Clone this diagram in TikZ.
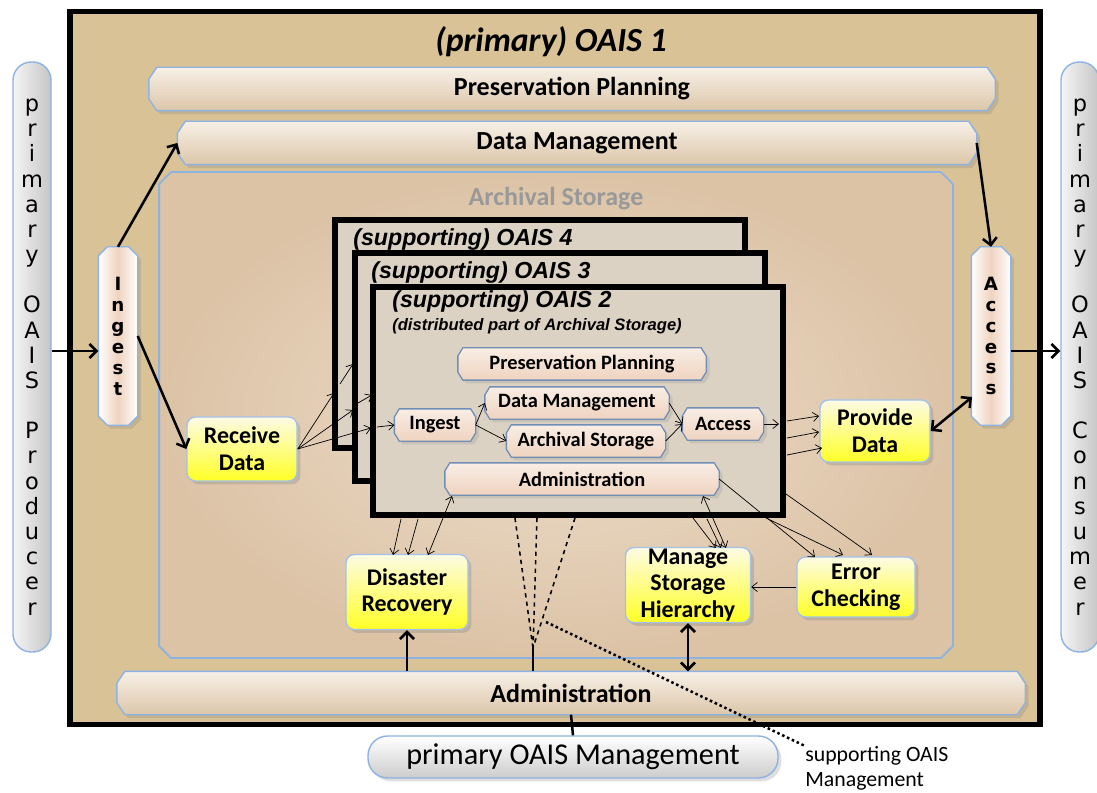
\documentclass[tikz,border=0pt]{standalone}
\usepackage{fontspec}
\setmainfont{Carlito}
\newfontfamily\arialfont{Liberation Sans}
\newfontfamily\verdanafont{DejaVu Sans}
\usepackage{tikz}
\usetikzlibrary{arrows.meta,positioning,shadows}
\newcommand{\pxu}{0.025cm}
% bevelled bar: a rectangle with cut corners
\makeatletter
\newdimen\bvxa \newdimen\bvya \newdimen\bvxb \newdimen\bvyb \newdimen\bvdx \newdimen\bvdy
\pgfkeys{/pgf/bevel x/.initial=5pt, /pgf/bevel y/.initial=8pt}
\pgfdeclareshape{bevel box}{%
  \inheritsavedanchors[from=rectangle]%
  \inheritanchorborder[from=rectangle]%
  \inheritanchor[from=rectangle]{center}%
  \inheritanchor[from=rectangle]{mid}%
  \inheritanchor[from=rectangle]{base}%
  \inheritanchor[from=rectangle]{north}%
  \inheritanchor[from=rectangle]{south}%
  \inheritanchor[from=rectangle]{east}%
  \inheritanchor[from=rectangle]{west}%
  \inheritanchor[from=rectangle]{north east}%
  \inheritanchor[from=rectangle]{north west}%
  \inheritanchor[from=rectangle]{south east}%
  \inheritanchor[from=rectangle]{south west}%
  \backgroundpath{%
    \southwest \bvxa=\pgf@x \bvya=\pgf@y
    \northeast \bvxb=\pgf@x \bvyb=\pgf@y
    \pgfmathsetlength\bvdx{\pgfkeysvalueof{/pgf/bevel x}}%
    \pgfmathsetlength\bvdy{\pgfkeysvalueof{/pgf/bevel y}}%
    \pgfpathmoveto{\pgfpointadd{\pgfqpoint{\bvxa}{\bvya}}{\pgfqpoint{0pt}{\bvdy}}}%
    \pgfpathlineto{\pgfpointadd{\pgfqpoint{\bvxa}{\bvya}}{\pgfqpoint{\bvdx}{0pt}}}%
    \pgfpathlineto{\pgfpointadd{\pgfqpoint{\bvxb}{\bvya}}{\pgfqpoint{-\bvdx}{0pt}}}%
    \pgfpathlineto{\pgfpointadd{\pgfqpoint{\bvxb}{\bvya}}{\pgfqpoint{0pt}{\bvdy}}}%
    \pgfpathlineto{\pgfpointadd{\pgfqpoint{\bvxb}{\bvyb}}{\pgfqpoint{0pt}{-\bvdy}}}%
    \pgfpathlineto{\pgfpointadd{\pgfqpoint{\bvxb}{\bvyb}}{\pgfqpoint{-\bvdx}{0pt}}}%
    \pgfpathlineto{\pgfpointadd{\pgfqpoint{\bvxa}{\bvyb}}{\pgfqpoint{\bvdx}{0pt}}}%
    \pgfpathlineto{\pgfpointadd{\pgfqpoint{\bvxa}{\bvyb}}{\pgfqpoint{0pt}{-\bvdy}}}%
    \pgfpathclose
  }%
}
\makeatother
\definecolor{papyrus}{HTML}{D8C296}
\definecolor{storagein}{HTML}{EDDDCB}
\definecolor{storageout}{HTML}{DCC3A6}
\definecolor{barblue}{HTML}{8DB3E2}
\definecolor{bartop}{HTML}{F7F0E7}
\definecolor{barbottom}{HTML}{DCC6A9}
\definecolor{peach}{HTML}{EFD3BF}
\definecolor{framefill}{HTML}{DBD2C3}
\definecolor{yellowtop}{HTML}{FDFBE4}
\definecolor{boxyellow}{HTML}{FFFF26}
\tikzset{
  oais-main/.style={draw=black, line width=3.6pt, fill=papyrus, inner sep=0pt},
  oais-frame/.style={draw=black, line width=3.6pt, fill=framefill, inner sep=0pt,
    minimum width=410*\pxu, minimum height=228*\pxu},
  oais-title/.style={anchor=west, inner sep=0pt, font=\arialfont\bfseries\itshape\fontsize{16.5}{19}\selectfont},
  oais-store/.style={bevel box, bevel x=8.5pt, bevel y=8.5pt, draw=barblue, line width=1.3pt,
    inner color=storagein, outer color=storageout, inner sep=0pt},
  oais-bar/.style={bevel box, bevel x=5.7pt, bevel y=8.5pt,
    draw=barblue, line width=1pt, top color=bartop, bottom color=barbottom, inner sep=0pt,
    minimum height=42*\pxu, font=\bfseries\fontsize{18.5}{21}\selectfont, drop shadow={opacity=0.25}},
  oais-vbar/.style={bevel box, bevel x=6.4pt, bevel y=6.4pt,
    draw=barblue, line width=1pt, left color=white, right color=white, middle color=peach, inner sep=0pt,
    minimum width=38*\pxu, minimum height=177*\pxu, align=center,
    font=\verdanafont\bfseries\fontsize{13}{14.9}\selectfont, drop shadow={opacity=0.25}},
  oais-sub/.style={bevel box, bevel x=3.5pt, bevel y=5.7pt,
    draw=barblue!80!black, line width=0.9pt, top color=peach!40!white, bottom color=peach, inner sep=0pt,
    minimum height=31*\pxu, font=\bfseries\fontsize{14.5}{17}\selectfont, drop shadow={opacity=0.2}},
  oais-func/.style={rounded corners=6pt, draw=barblue!80, line width=1pt, top color=yellowtop,
    bottom color=boxyellow, align=center, inner sep=0pt, font=\bfseries\fontsize{17}{19}\selectfont,
    drop shadow={opacity=0.3}},
  oais-pill/.style={rounded corners=13pt, draw=barblue, line width=1pt, left color=gray!8, right color=gray!45,
    inner sep=0pt, minimum width=38*\pxu, minimum height=590*\pxu, align=center,
    font=\verdanafont\fontsize{16}{17.9}\selectfont},
  oais-mgmt/.style={rounded corners=14pt, draw=barblue, line width=1pt, top color=white, bottom color=gray!40,
    inner sep=0pt, font=\fontsize{21.5}{24}\selectfont, drop shadow={opacity=0.25}},
  oais-link/.style={line width=1.8pt, -{Straight Barb[length=5pt,width=10pt]}},
  oais-both/.style={line width=1.8pt, {Straight Barb[length=5pt,width=10pt]}-{Straight Barb[length=5pt,width=10pt]}},
  oais-thin/.style={line width=0.5pt, -{Straight Barb[length=4pt,width=6.5pt]}},
  oais-thinboth/.style={line width=0.5pt, {Straight Barb[length=4pt,width=6.5pt]}-{Straight Barb[length=4pt,width=6.5pt]}}
}
\begin{document}
\begin{tikzpicture}[x=\pxu, y=-\pxu]
  \useasboundingbox[fill=white] (0,0) rectangle (1097,793);
  % primary OAIS
  \node[oais-main, minimum width=970*\pxu, minimum height=713*\pxu] (oais1) at (555,368) {};
  \node[font=\bfseries\itshape\fontsize{24}{28}\selectfont] (title1) at (551,42) {(primary) OAIS 1};
  \node[oais-bar, minimum width=845*\pxu] (plan) at (572,89) {Preservation Planning};
  \node[oais-bar, minimum width=798*\pxu] (datamgmt) at (577,143) {Data Management};
  \node[oais-store, minimum width=792*\pxu, minimum height=484*\pxu] (storage) at (556,415) {};
  \node[text=gray!80, font=\bfseries\fontsize{18.5}{21}\selectfont] (storagelbl) at (556,199) {Archival Storage};
  \node[oais-vbar] (ingest) at (118,336) {I\\n\\g\\e\\s\\t};
  \node[oais-vbar] (access) at (991,336) {A\\c\\c\\e\\s\\s};
  \node[oais-bar, minimum width=907*\pxu] (admin) at (571,693) {Administration};
  \node[oais-pill] (producer) at (32,357) {p\\r\\i\\m\\a\\r\\y\\[17.9pt]O\\A\\I\\S\\[17.9pt]P\\r\\o\\d\\u\\c\\e\\r};
  \node[oais-pill] (consumer) at (1080,357) {p\\r\\i\\m\\a\\r\\y\\[17.9pt]O\\A\\I\\S\\[17.9pt]C\\o\\n\\s\\u\\m\\e\\r};
  \node[oais-mgmt, minimum width=410*\pxu, minimum height=42*\pxu] (oaismgmt) at (573,757) {primary OAIS Management};
  \node[anchor=north west, inner sep=0pt, align=left, font=\fontsize{15.5}{18}\selectfont] (suplabel) at (805,746) {supporting OAIS\\Management};

  % supporting OAIS stack
  \node[oais-frame] (oais4) at (540,334) {};
  \node[oais-title] (title4) at (353,240) {(supporting) OAIS 4};
  \coordinate (enter4) at (340,384);
  \coordinate (ingest4) at (353,364);
  \draw[oais-thin] (enter4) -- (ingest4);
  \node[oais-frame] (oais3) at (560,367) {};
  \node[oais-title] (title3) at (371,273) {(supporting) OAIS 3};
  \coordinate (enter3) at (358,403);
  \coordinate (ingest3) at (372,395);
  \draw[oais-thin] (enter3) -- (ingest3);
  \node[oais-frame] (oais2) at (578,401) {};
  \node[oais-title] (title2) at (392,302) {(supporting) OAIS 2};
  \node[oais-title, font=\arialfont\bfseries\itshape\fontsize{11.8}{14}\selectfont] (subtitle2) at (392,326) {(distributed part of Archival Storage)};
  \node[oais-sub, minimum width=247*\pxu] (splan) at (582,364) {Preservation Planning};
  \node[oais-sub, minimum width=183*\pxu] (sdatamgmt) at (577,403) {Data Management};
  \node[oais-sub, minimum width=80*\pxu] (singest) at (435,425) {Ingest};
  \node[oais-sub, minimum width=158*\pxu] (sstorage) at (586,441) {Archival Storage};
  \node[oais-sub, minimum width=80*\pxu] (saccess) at (723,424) {Access};
  \node[oais-sub, minimum width=273*\pxu] (sadmin) at (582,479) {Administration};

  % functions of Archival Storage
  \node[oais-func, minimum width=110*\pxu, minimum height=64*\pxu] (receive) at (242,449) {Receive\\Data};
  \node[oais-func, minimum width=110*\pxu, minimum height=62*\pxu] (provide) at (875,431) {Provide\\Data};
  \node[oais-func, minimum width=122*\pxu, minimum height=75*\pxu] (disaster) at (407,592) {Disaster\\Recovery};
  \node[oais-func, minimum width=125*\pxu, minimum height=75*\pxu] (hierarchy) at (688,585) {Manage\\Storage\\Hierarchy};
  \node[oais-func, minimum width=118*\pxu, minimum height=60*\pxu] (errcheck) at (856,587) {Error\\Checking};

  % flows of the primary OAIS
  \draw[oais-link] (producer.east |- 0,351) -- (ingest.west |- 0,351);
  \draw[oais-link] (ingest.north) -- (datamgmt.west);
  \draw[oais-link] (ingest.east) -- (receive.west);
  \draw[oais-link] (datamgmt.east) -- (access.north);
  \draw[oais-link] (access.east |- 0,351) -- (consumer.west |- 0,351);
  \coordinate (accessin) at (972,397);
  \draw[oais-both] (provide.east) -- (accessin);
  \draw[oais-link] (disaster.south |- admin.north) -- (disaster.south);
  \draw[oais-both] (hierarchy.south |- admin.north) -- (hierarchy.south);
  \draw[line width=1.8pt] (admin.south) -- (oaismgmt.north);

  % flows into and out of the supporting OAIS
  \coordinate (edge4) at (334,393);
  \coordinate (edge3) at (353,410);
  \coordinate (edge2) at (371,428);
  \coordinate (enter2) at (377,427);
  \draw[oais-thin] (receive.east) -- (edge4);
  \draw[oais-thin] (receive.east) -- (edge3);
  \draw[oais-thin] (receive.east) -- (edge2);
  \draw[oais-thin] (enter2) -- (singest.west);
  \draw[oais-thin] (singest.east) -- (sdatamgmt.west);
  \draw[oais-thin] (singest.east) -- (sstorage.west);
  \draw[oais-thin] (sdatamgmt.east) -- (saccess.west);
  \draw[oais-thin] (sstorage.east) -- (saccess.west);
  \coordinate (exit2) at (779,424);
  \draw[oais-thin] (saccess.east) -- (exit2);
  \coordinate (leave2) at (787,421);
  \coordinate (leave3) at (787,438);
  \coordinate (leave4) at (787,455);
  \coordinate (give2) at (819,416);
  \coordinate (give3) at (819,432);
  \coordinate (give4) at (822,448);
  \draw[oais-thin] (leave2) -- (give2);
  \draw[oais-thin] (leave3) -- (give3);
  \draw[oais-thin] (leave4) -- (give4);

  \coordinate (drop4) at (401,519);
  \coordinate (drop3) at (418,519);
  \coordinate (adminsw) at (452,496);
  \coordinate (rec4) at (393,555);
  \coordinate (rec3) at (408,555);
  \coordinate (rec2) at (428,555);
  \draw[oais-thin] (drop4) -- (rec4);
  \draw[oais-thin] (drop3) -- (rec3);
  \draw[oais-thinboth] (adminsw) -- (rec2);

  \coordinate (adminse) at (703,496);
  \coordinate (hid3) at (693,518);
  \coordinate (hid4) at (707,519);
  \coordinate (hier2) at (726,548);
  \coordinate (hier3) at (716,548);
  \coordinate (hier4) at (721,548);
  \draw[oais-thinboth] (adminse) -- (hier2);
  \draw[oais-thin] (hid3) -- (hier3);
  \draw[oais-thin] (hid4) -- (hier4);

  \coordinate (chk3) at (766,518);
  \coordinate (chk4) at (786,494);
  \coordinate (err2) at (815,557);
  \coordinate (err3) at (843,555);
  \coordinate (err4) at (872,555);
  \draw[oais-thin] (sadmin.east) -- (err2);
  \draw[oais-thin] (chk3) -- (err3);
  \draw[oais-thin] (chk4) -- (err4);
  \draw[oais-thin] (errcheck.west) -- (hierarchy.east |- errcheck.west);

  % management links
  \coordinate (mgmtlink) at (533,648);
  \coordinate (dash4) at (515,518);
  \coordinate (dash3) at (537,518);
  \coordinate (dash2) at (575,518);
  \draw[dashed, line width=1.1pt] (dash4) -- (mgmtlink) (dash3) -- (mgmtlink) (dash2) -- (mgmtlink);
  \draw[line width=1.8pt] (mgmtlink) -- (mgmtlink |- admin.north);
  \coordinate (dotstart) at (546,622);
  \draw[dotted, line width=1.8pt] (dotstart) -- (suplabel.north west);
\end{tikzpicture}
\end{document}
